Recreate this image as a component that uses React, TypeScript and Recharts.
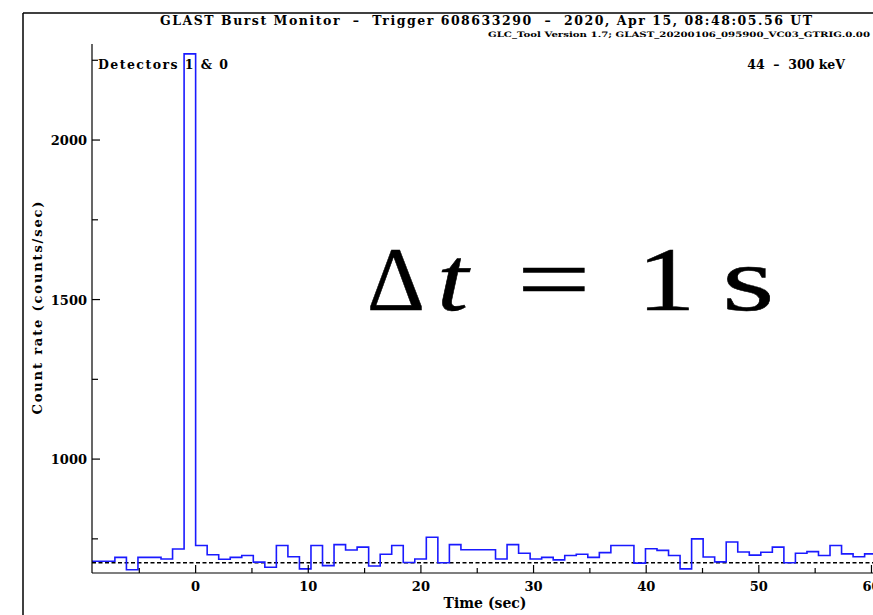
import { Line, LineChart, ReferenceLine, XAxis, YAxis } from "recharts";

// GBM light curve, detectors 1 & 0, 44-300 keV, 1.024 s bins
const BIN_WIDTH = 1.024;
const FIRST_BIN = -10; // bin index of the first value below

const COUNTS = [
  680, 680, 680, 692, 653, 692, 692, 687, 718, 2270,
  729, 700, 686, 692, 698, 677, 661, 729, 694, 656,
  729, 666, 732, 715, 724, 665, 702, 729, 676, 687,
  755, 675, 732, 716, 716, 716, 687, 732, 705, 687,
  692, 684, 698, 702, 692, 707, 729, 729, 674, 719,
  714, 698, 656, 750, 693, 678, 740, 709, 699, 708,
  724, 675, 705, 710, 698, 729, 703, 694, 703, 700,
];

const BACKGROUND = 675;

const X_TICKS = [-5, 0, 5, 10, 15, 20, 25, 30, 35, 40, 45, 50, 55, 60];
const Y_TICKS = [750, 1000, 1250, 1500, 1750, 2000, 2250];

const TITLE = "GLAST Burst Monitor  \u2013  Trigger 608633290  \u2013  2020, Apr 15, 08:48:05.56 UT";
const SUBTITLE = "GLC_Tool Version 1.7; GLAST_20200106_095900_VC03_GTRIG.0.00";

const data = COUNTS.map((v, i) => ({ t: (FIRST_BIN + i) * BIN_WIDTH, rate: v }));
// close the last bin
data.push({ t: (FIRST_BIN + COUNTS.length) * BIN_WIDTH, rate: COUNTS[COUNTS.length - 1] });

const FONT = "'DejaVu Serif', serif";
const BIG_FONT = "'Liberation Serif', serif";

// big annotation glyphs: [text, x, horizontal stretch, italic]
const BIG_GLYPHS: [string, number, number, boolean][] = [
  ["\u0394", 367, 1.0, false],
  ["t", 437, 1.25, true],
  ["=", 517, 1.45, false],
  ["1", 637, 1.3, false],
  ["s", 722, 1.5, false],
];

function BottomTick(props: any) {
  const { x, y, payload } = props;
  const major = payload.value % 10 === 0;
  return (
    <g>
      <line x1={x} x2={x} y1={y} y2={y - (major ? 8 : 5)} stroke="#000" strokeWidth={1.2} />
      {major && (
        <text x={x} y={y + 18} textAnchor="middle" fontFamily={FONT} fontWeight="bold" fontSize={13} fill="#000">
          {payload.value}
        </text>
      )}
    </g>
  );
}

function TopTick(props: any) {
  const { x, y, payload } = props;
  const major = payload.value % 10 === 0;
  return <line x1={x} x2={x} y1={y} y2={y + (major ? 8 : 5)} stroke="#000" strokeWidth={1.2} />;
}

function LeftTick(props: any) {
  const { x, y, payload } = props;
  const major = payload.value % 500 === 0;
  return (
    <g>
      <line x1={x} x2={x + (major ? 8 : 6)} y1={y} y2={y} stroke="#000" strokeWidth={1.2} />
      {major && (
        <text x={x - 5} y={y + 5} textAnchor="end" fontFamily={FONT} fontWeight="bold" fontSize={13} fill="#000">
          {payload.value}
        </text>
      )}
    </g>
  );
}

export default function App() {
  return (
    <div
      style={{
        position: "fixed",
        left: 0,
        top: 0,
        width: 873,
        height: 615,
        overflow: "hidden",
        background: "#fff",
      }}
    >
      <LineChart
        width={904}
        height={615}
        data={data}
        margin={{ top: 44, right: 10, bottom: 0, left: 0 }}
        style={{ position: "absolute", left: 0, top: 0 }}
      >
        <XAxis
          xAxisId="bottom"
          dataKey="t"
          type="number"
          domain={[-9.2, 62]}
          allowDataOverflow
          ticks={X_TICKS}
          interval={0}
          height={42}
          tickSize={0}
          tickMargin={0}
          tickLine={false}
          tick={BottomTick}
          axisLine={{ stroke: "#000", strokeWidth: 1.2 }}
        />
        <XAxis
          xAxisId="top"
          orientation="top"
          dataKey="t"
          type="number"
          domain={[-9.2, 62]}
          allowDataOverflow
          ticks={X_TICKS}
          interval={0}
          height={0}
          tickSize={0}
          tickMargin={0}
          tickLine={false}
          tick={TopTick}
          axisLine={{ stroke: "#000", strokeWidth: 1.2 }}
        />
        <YAxis
          type="number"
          domain={[643, 2301]}
          allowDataOverflow
          ticks={Y_TICKS}
          interval={0}
          width={92}
          tickSize={0}
          tickMargin={0}
          tickLine={false}
          tick={LeftTick}
          axisLine={{ stroke: "#000", strokeWidth: 1.2 }}
        />
        <ReferenceLine
          xAxisId="bottom"
          y={BACKGROUND}
          stroke="#000"
          strokeWidth={1.5}
          strokeDasharray="4 2.5"
        />
        <Line
          xAxisId="bottom"
          dataKey="rate"
          type="stepAfter"
          stroke="#1a1aff"
          strokeWidth={1.6}
          dot={false}
          activeDot={false}
          isAnimationActive={false}
        />
      </LineChart>

      <svg
        width={873}
        height={615}
        style={{ position: "absolute", left: 0, top: 0, pointerEvents: "none" }}
      >
        <line x1={23} y1={13} x2={873} y2={13} stroke="#000" strokeWidth={1.5} />
        <line x1={23} y1={13} x2={23} y2={615} stroke="#000" strokeWidth={1.5} />
        <text
          x={160}
          y={25}
          fontFamily={FONT}
          fontWeight="bold"
          fontSize={12.5}
          fill="#000"
          textLength={652}
          lengthAdjust="spacing"
          style={{ whiteSpace: "pre" }}
        >
          {TITLE}
        </text>
        <text
          x={488}
          y={37}
          fontFamily={FONT}
          fontWeight="bold"
          fontSize={7.5}
          fill="#000"
          textLength={382}
          lengthAdjust="spacingAndGlyphs"
        >
          {SUBTITLE}
        </text>
        <text
          x={98}
          y={69}
          fontFamily={FONT}
          fontWeight="bold"
          fontSize={12.5}
          fill="#000"
          textLength={130}
          lengthAdjust="spacing"
        >
          Detectors 1 &amp; 0
        </text>
        <text
          x={845}
          y={69}
          textAnchor="end"
          fontFamily={FONT}
          fontWeight="bold"
          fontSize={12.5}
          fill="#000"
          style={{ whiteSpace: "pre" }}
        >
          {"44  \u2013  300 keV"}
        </text>
        <text
          x={0}
          y={0}
          transform="translate(42 308) rotate(-90)"
          textAnchor="middle"
          fontFamily={FONT}
          fontWeight="bold"
          fontSize={13}
          fill="#000"
          textLength={213}
        >
          Count rate (counts/sec)
        </text>
        <text
          x={485}
          y={608}
          textAnchor="middle"
          fontFamily={FONT}
          fontWeight="bold"
          fontSize={14}
          fill="#000"
        >
          Time (sec)
        </text>
        {BIG_GLYPHS.map(([g, x, sx, italic]) => (
          <text
            key={g}
            transform={`translate(${x} 310) scale(${sx} 1)`}
            fontFamily={BIG_FONT}
            fontStyle={italic ? "italic" : "normal"}
            fontSize={90}
            fill="#000"
            stroke="#000"
            strokeWidth={0.5}
          >
            {g}
          </text>
        ))}
      </svg>
    </div>
  );
}
